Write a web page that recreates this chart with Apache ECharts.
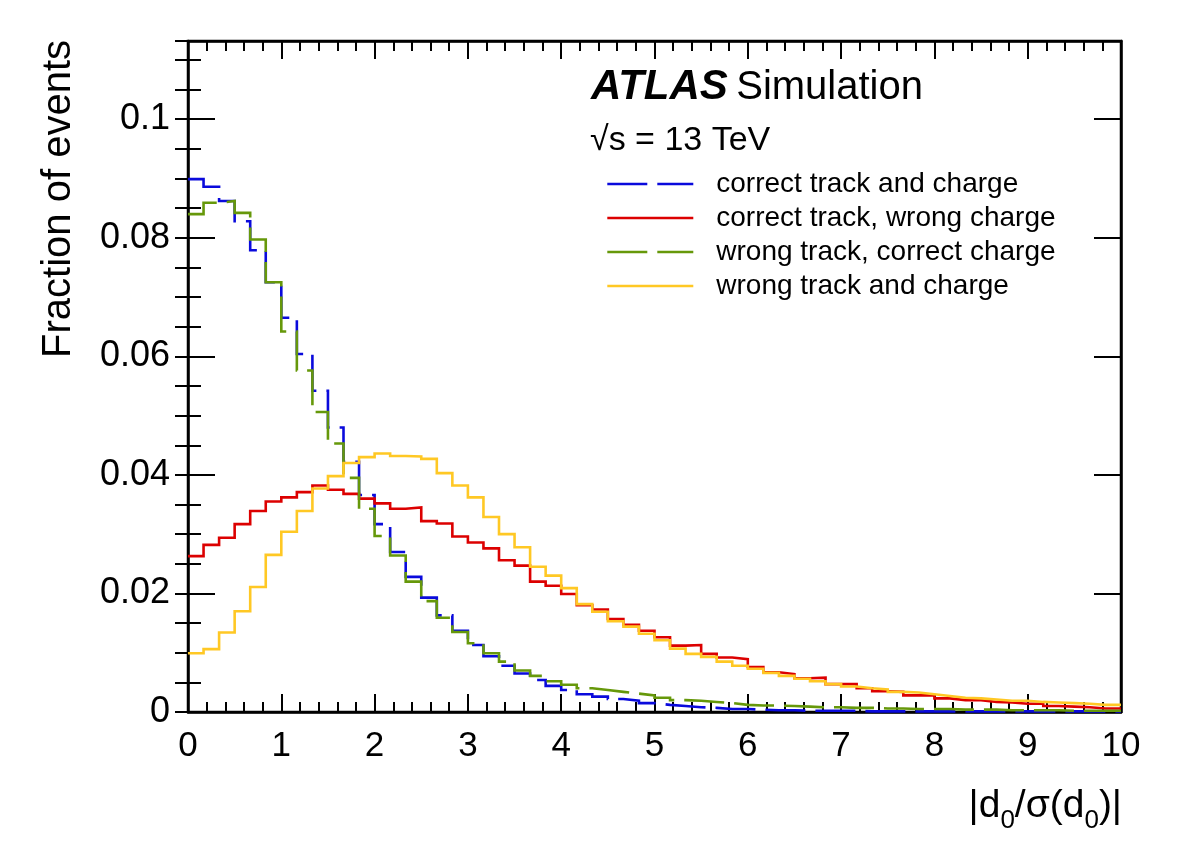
<!DOCTYPE html>
<html>
<head>
<meta charset="utf-8">
<script src="https://cdn.jsdelivr.net/npm/echarts@6/dist/echarts.min.js"></script>
<style>
html,body{margin:0;padding:0;background:#fff;}
#chart{width:1182px;height:848px;}
</style>
</head>
<body>
<div id="chart"></div>
<script>
// Histogram binning: 60 bins from 0 to 10
const binLow = 0, binHigh = 10, nBins = 60;

const seriesNames = [
  'correct track and charge',
  'correct track, wrong charge',
  'wrong track, correct charge',
  'wrong track and charge'
];

const correctTrackCharge = [
  0.0899,0.0886,0.0862,0.0828,0.0779,0.0725,0.0665,0.0604,0.0542,0.0480,
  0.0422,0.0366,0.0317,0.0270,0.0228,0.0193,0.0163,0.0137,0.0113,0.0094,
  0.0078,0.0065,0.0054,0.0044,0.0037,0.0030,0.0026,0.0022,0.0019,0.0015,
  0.0012,0.0010,0.0008,0.0007,0.0005,0.0005,0.0004,0.0003,0.0003,0.0002,
  0.0002,0.0002,0.0002,0.0001,0.0001,0.0001,0.0001,0.0001,0.0001,0.0001,
  0.0001,0.0001,0.0001,0.0001,0.0001,0.0001,0.0001,0.0001,0.0001,0.0001
];

const correctTrackWrongCharge = [
  0.0263,0.0282,0.0294,0.0317,0.0339,0.0355,0.0362,0.0371,0.0382,0.0375,
  0.0368,0.0360,0.0352,0.0343,0.0345,0.0322,0.0318,0.0296,0.0286,0.0276,
  0.0256,0.0247,0.0220,0.0213,0.0199,0.0180,0.0173,0.0157,0.0147,0.0137,
  0.0126,0.0112,0.0113,0.0098,0.0092,0.0089,0.0076,0.0067,0.0064,0.0057,
  0.0058,0.0047,0.0047,0.0040,0.0035,0.0034,0.0028,0.0028,0.0023,0.0020,
  0.0020,0.0017,0.0016,0.0014,0.0014,0.0010,0.0009,0.0008,0.0006,0.0006
];

const wrongTrackCorrectCharge = [
  0.0840,0.0859,0.0862,0.0842,0.0797,0.0725,0.0642,0.0576,0.0506,0.0453,
  0.0395,0.0343,0.0297,0.0264,0.0220,0.0187,0.0159,0.0135,0.0116,0.0099,
  0.0085,0.0070,0.0061,0.0052,0.0046,0.0040,0.0037,0.0034,0.0031,0.0028,
  0.0024,0.0020,0.0019,0.0017,0.0015,0.0012,0.0011,0.0011,0.0010,0.0009,
  0.0008,0.0008,0.0007,0.0007,0.0006,0.0006,0.0005,0.0005,0.0005,0.0004,
  0.0004,0.0004,0.0003,0.0003,0.0003,0.0003,0.0002,0.0002,0.0002,0.0002
];

const wrongTrackWrongCharge = [
  0.0099,0.0106,0.0134,0.0170,0.0211,0.0265,0.0304,0.0339,0.0377,0.0398,
  0.0420,0.0430,0.0436,0.0432,0.0431,0.0427,0.0403,0.0382,0.0362,0.0329,
  0.0300,0.0278,0.0245,0.0230,0.0209,0.0182,0.0169,0.0153,0.0144,0.0132,
  0.0121,0.0107,0.0098,0.0093,0.0085,0.0078,0.0073,0.0066,0.0061,0.0056,
  0.0052,0.0047,0.0043,0.0040,0.0038,0.0034,0.0033,0.0030,0.0027,0.0024,
  0.0023,0.0021,0.0019,0.0019,0.0017,0.0016,0.0015,0.0014,0.0012,0.0012
];

const xTickLabels = ['0','1','2','3','4','5','6','7','8','9','10'];
const yTickLabels = ['0','0.02','0.04','0.06','0.08','0.1'];

const colors = ['#0A0ADC', '#DC0000', '#66980A', '#FFC824'];
const dashes = [[40, 10], 'solid', [40, 10], 'solid'];
const allValues = [correctTrackCharge, correctTrackWrongCharge, wrongTrackCorrectCharge, wrongTrackWrongCharge];

function histPoints(vals) {
  const w = (binHigh - binLow) / nBins;
  const pts = vals.map((v, i) => [binLow + i * w, v]);
  pts.push([binHigh, vals[vals.length - 1]]);
  return pts;
}

const FONT = 'Liberation Sans, Arial, Helvetica, sans-serif';
const Y_MAX = 0.1132;

const chart = echarts.init(document.getElementById('chart'), null, {renderer: 'canvas'});

const gridPos = {left: 188, right: 61, top: 41, bottom: 136};

const option = {
  animation: false,
  backgroundColor: '#ffffff',
  grid: Object.assign({show: true, borderColor: '#000', borderWidth: 2.5, backgroundColor: 'transparent'}, gridPos),
  legend: {
    orient: 'vertical',
    left: 601,
    top: 164,
    itemWidth: 86,
    itemHeight: 14,
    itemGap: 4,
    data: seriesNames,
    itemStyle: {opacity: 0},
    lineStyle: {width: 2.6},
    textStyle: {fontFamily: FONT, fontSize: 28, color: '#000', lineHeight: 30, padding: [0, 0, 0, 18]}
  },
  xAxis: [
    {
      type: 'value', min: 0, max: 10, interval: 1, position: 'bottom',
      axisLine: {show: true, onZero: false, lineStyle: {color: '#000', width: 2.5}},
      axisTick: {show: true, inside: true, length: 18, lineStyle: {color: '#000', width: 2}},
      minorTick: {show: true, splitNumber: 5, length: 10, lineStyle: {color: '#000', width: 2}},
      splitLine: {show: false},
      axisLabel: {show: true, margin: 17, fontFamily: FONT, fontSize: 35, color: '#000',
        formatter: v => { const i = Math.round(v); return Math.abs(v - i) < 1e-9 ? xTickLabels[i] : ''; }}
    },
    {
      type: 'value', min: 0, max: 10, interval: 1, position: 'top',
      axisLine: {show: true, onZero: false, lineStyle: {color: '#000', width: 2.5}},
      axisTick: {show: true, inside: true, length: 18, lineStyle: {color: '#000', width: 2}},
      minorTick: {show: true, splitNumber: 5, length: 10, lineStyle: {color: '#000', width: 2}},
      splitLine: {show: false},
      axisLabel: {show: false}
    }
  ],
  yAxis: [
    {
      type: 'value', min: 0, max: Y_MAX, interval: 0.02, position: 'left',
      axisLine: {show: true, onZero: false, lineStyle: {color: '#000', width: 2.5}},
      axisTick: {show: true, inside: true, length: 27, lineStyle: {color: '#000', width: 2}},
      splitLine: {show: false},
      axisLabel: {show: true, margin: 18, fontFamily: FONT, fontSize: 36, color: '#000',
        formatter: v => { const i = Math.round(v / 0.02); return Math.abs(v - i * 0.02) < 1e-9 ? yTickLabels[i] : ''; }}
    },
    {
      type: 'value', min: 0, max: Y_MAX, interval: 0.005, position: 'left',
      axisLine: {show: false},
      axisTick: {show: true, inside: true, length: 13, lineStyle: {color: '#000', width: 2}},
      splitLine: {show: false}, axisLabel: {show: false}
    },
    {
      type: 'value', min: 0, max: Y_MAX, interval: 0.02, position: 'right',
      axisLine: {show: true, onZero: false, lineStyle: {color: '#000', width: 2.5}},
      axisTick: {show: true, inside: true, length: 27, lineStyle: {color: '#000', width: 2}},
      splitLine: {show: false}, axisLabel: {show: false}
    },
    {
      type: 'value', min: 0, max: Y_MAX, interval: 0.005, position: 'right',
      axisLine: {show: false},
      axisTick: {show: true, inside: true, length: 13, lineStyle: {color: '#000', width: 2}},
      splitLine: {show: false}, axisLabel: {show: false}
    }
  ],
  series: seriesNames.map((name, k) => ({
    name: name,
    type: 'line',
    step: 'end',
    xAxisIndex: 0,
    yAxisIndex: 0,
    showSymbol: false,
    symbol: 'none',
    clip: true,
    z: 2 + k,
    itemStyle: {color: colors[k]},
    lineStyle: {color: colors[k], width: 2.6, type: dashes[k], cap: 'butt', join: 'miter'},
    data: histPoints(allValues[k])
  })),
  graphic: [
    {
      type: 'text', left: 591, top: 66, z: 10,
      style: {
        text: '{a|ATLAS} {b|Simulation}',
        rich: {
          a: {fontFamily: FONT, fontSize: 42, fontWeight: 'bold', fontStyle: 'italic', fill: '#000'},
          b: {fontFamily: FONT, fontSize: 40, fill: '#000', padding: [2, 0, 0, 5]}
        }
      }
    },
    {
      type: 'text', left: 590, top: 124, z: 10,
      style: {text: '\u221As = 13 TeV', fontFamily: FONT, fontSize: 34, fill: '#000'}
    },
    {
      type: 'text', z: 10,
      x: 59, y: 40, rotation: Math.PI / 2,
      style: {text: 'Fraction of events', fontFamily: FONT, fontSize: 40, fill: '#000', align: 'right', verticalAlign: 'middle'}
    },
    {
      type: 'text', z: 10,
      x: 1122, y: 806,
      style: {
        text: '|d{s|0}/\u03C3(d{s|0})|',
        align: 'right', verticalAlign: 'middle',
        fontFamily: FONT, fontSize: 39, fill: '#000',
        rich: {
          s: {fontFamily: FONT, fontSize: 26, fill: '#000', padding: [30, 0, 0, 0]}
        }
      }
    }
  ]
};

chart.setOption(option);
</script>
</body>
</html>
